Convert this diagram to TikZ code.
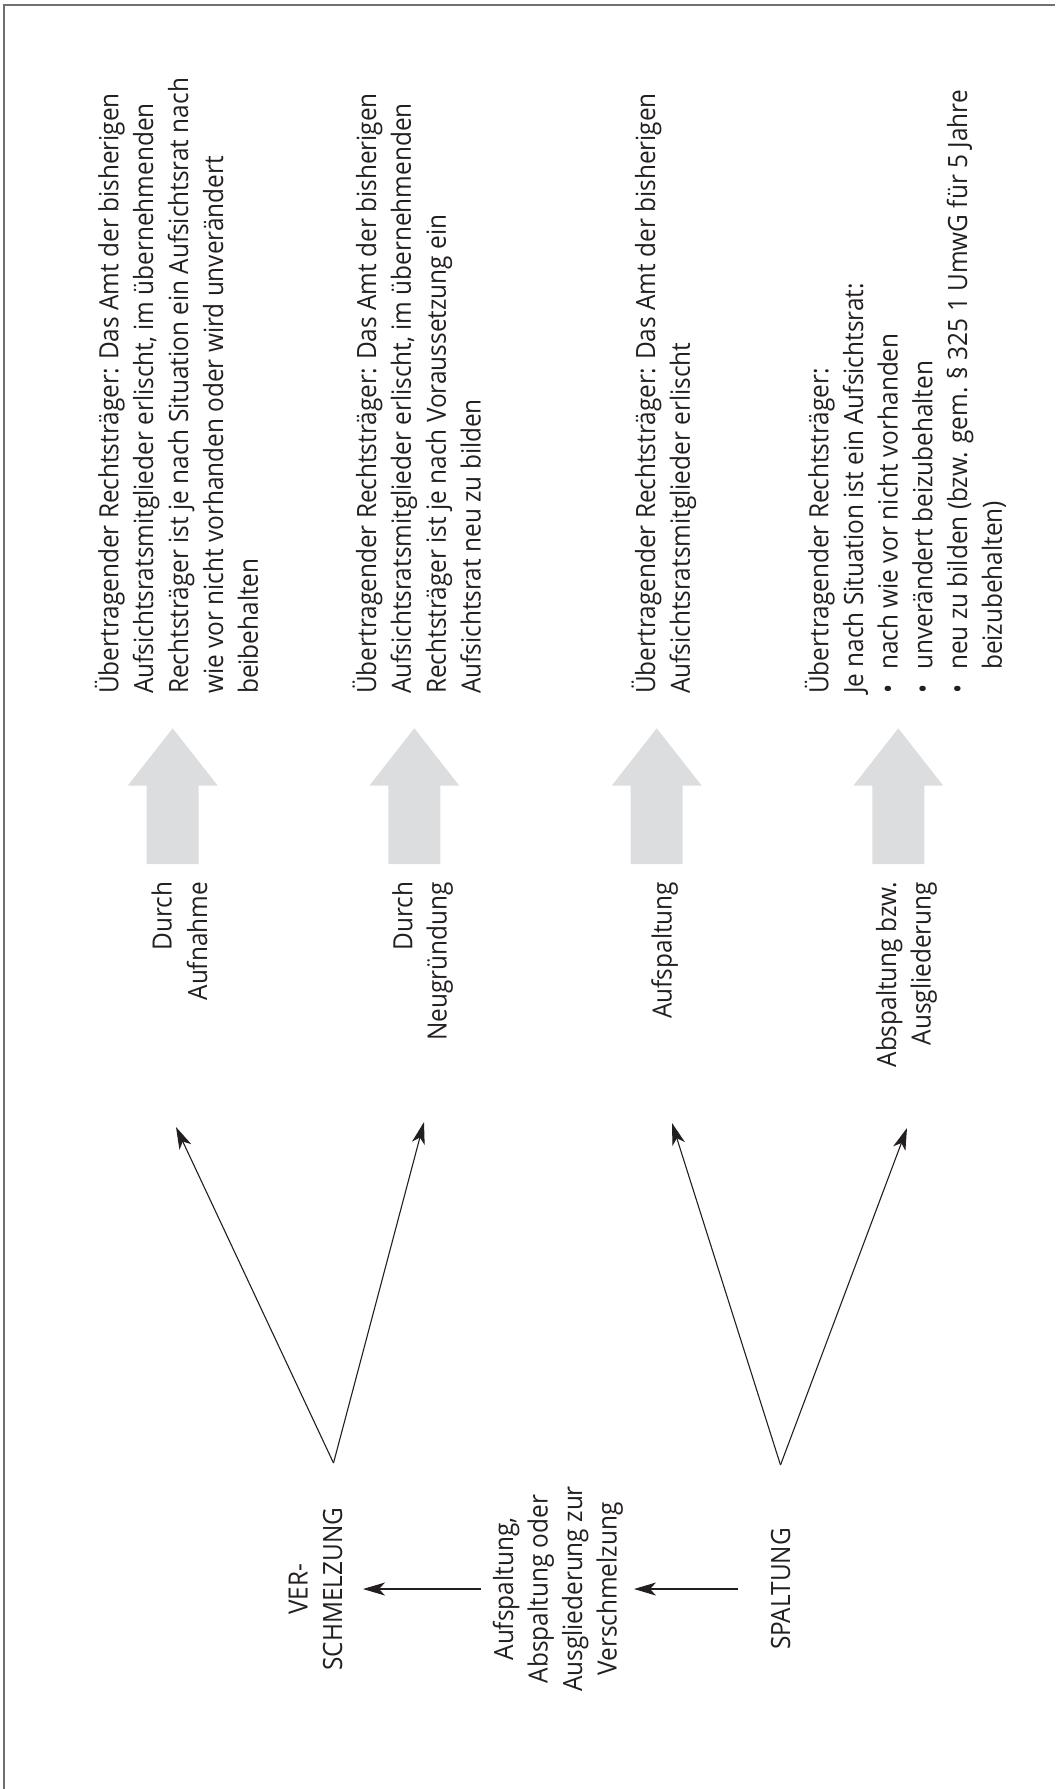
\documentclass[tikz,border=0pt]{standalone}
\usepackage{fontspec}
\setmainfont{Open Sans}[FakeStretch=0.92]
\usetikzlibrary{arrows.meta}
\definecolor{arrowgray}{HTML}{DCDDDF}
\definecolor{framegray}{HTML}{707070}
\definecolor{ink}{HTML}{231F20}
\begin{document}
\begin{tikzpicture}[x=1bp,y=-1bp,
  txt/.style={rotate=90, inner sep=0pt, font=\fontsize{26.5bp}{34.8bp}\selectfont, text=ink},
  lbl/.style={txt, anchor=base east},
  blk/.style={txt, anchor=base west},
  ctr/.style={txt, anchor=base},
  conn/.style={draw=ink, line width=1.1bp, -{Stealth[length=22bp,width=13bp,inset=6bp]}},
  bigarrow/.style={fill=arrowgray, draw=none}
]
\useasboundingbox (0,0) rectangle (1055,1789);
% frame (only top and left edges visible)
\draw[framegray, line width=1.6bp] (1055,5) -- (4,5) -- (4,1789);

% big gray arrows
\foreach \cx/\nm in {172.7/g1, 414.3/g2, 656.7/g3, 898.3/g4}
  \fill[bigarrow] (\cx-26,864) -- (\cx-26,785.7) -- (\cx-45,785.7) -- (\cx,728.3)
     -- (\cx+45,785.7) -- (\cx+26,785.7) -- (\cx+26,864) -- cycle;

% result text blocks
\foreach \t [count=\i from 0] in {{Übertragender Rechtsträger: Das Amt der bisherigen},
  {Aufsichtsratsmitglieder erlischt, im übernehmenden},
  {Rechtsträger ist je nach Situation ein Aufsichtsrat nach},
  {wie vor nicht vorhanden oder wird unverändert},
  {beibehalten}}
  \node[blk] (ra\i) at ({118.3+34.9*\i},694) {\t};
\foreach \t [count=\i from 0] in {{Übertragender Rechtsträger: Das Amt der bisherigen},
  {Aufsichtsratsmitglieder erlischt, im übernehmenden},
  {Rechtsträger ist je nach Voraussetzung ein},
  {Aufsichtsrat neu zu bilden}}
  \node[blk] (rb\i) at ({376+34.9*\i},694) {\t};
\foreach \t [count=\i from 0] in {{Übertragender Rechtsträger: Das Amt der bisherigen},
  {Aufsichtsratsmitglieder erlischt}}
  \node[blk] (rc\i) at ({655+34.9*\i},694) {\t};
\node[blk] (rd0) at (828.3,694) {Übertragender Rechtsträger:};
\node[blk] (rd1) at (863.0,694) {Je nach Situation ist ein Aufsichtsrat:};
\foreach \t [count=\i from 2] in {{nach wie vor nicht vorhanden},
  {unverändert beizubehalten},
  {neu zu bilden (bzw. gem. § 325 1 UmwG für 5 Jahre}}
  {\node[blk] (bu\i) at ({828.3+34.7*\i},694) {•};
   \node[blk] (rd\i) at ({828.3+34.7*\i},670) {\t};}
\node[blk] (rd5) at (1001.8,670) {beizubehalten)};

% labels under the gray arrows
\node[lbl] (la1) at (171.5,881.7) {Durch};
\node[lbl] (la2) at (207.0,881.7) {Aufnahme};
\node[lbl] (lb1) at (412.3,881.7) {Durch};
\node[lbl] (lb2) at (446.7,881.7) {Neugründung};
\node[lbl] (lc1) at (671.7,881.7) {Aufspaltung};
\node[lbl] (ld1) at (896.0,881.7) {Abspaltung bzw.};
\node[lbl] (ld2) at (930.5,881.7) {Ausgliederung};

% bottom row
\def\Y{1589}
\node[ctr] (ver1) at (307.5,\Y) {VER-};
\node[ctr] (ver2) at (342.0,\Y) {SCHMELZUNG};
\node[ctr] (mid1) at (513.0,\Y) {Aufspaltung,};
\node[ctr] (mid2) at (547.5,\Y) {Abspaltung oder};
\node[ctr] (mid3) at (582.0,\Y) {Ausgliederung zur};
\node[ctr] (mid4) at (616.5,\Y) {Verschmelzung};
\node[ctr] (spal) at (790.0,\Y) {SPALTUNG};

% connectors
\coordinate (vapex) at (333.5,1463);
\coordinate (vt1) at (176,1127);
\coordinate (vt2) at (424,1122);
\coordinate (sapex) at (780.5,1465);
\coordinate (st1) at (672,1123);
\coordinate (st2) at (907,1128);
\draw[conn] (vapex) -- (vt1);
\draw[conn] (vapex) -- (vt2);
\draw[conn] (sapex) -- (st1);
\draw[conn] (sapex) -- (st2);
\coordinate (h1s) at (481,\Y);
\coordinate (h1e) at (363,\Y);
\coordinate (h2s) at (738,\Y);
\coordinate (h2e) at (634,\Y);
\draw[conn] (h1s) -- (h1e);
\draw[conn] (h2s) -- (h2e);
\end{tikzpicture}
\end{document}
